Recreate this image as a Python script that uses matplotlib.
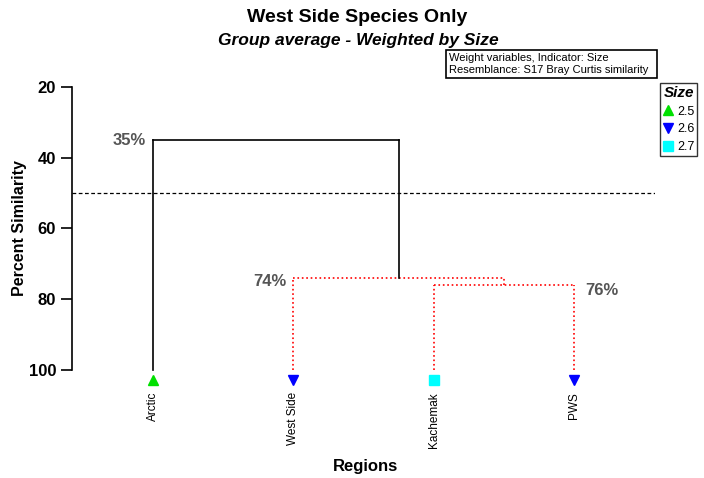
import matplotlib
matplotlib.use("Agg")
import matplotlib.pyplot as plt
from matplotlib.lines import Line2D
from matplotlib.patches import Rectangle

plt.rcParams['font.family'] = ['Liberation Sans', 'DejaVu Sans']

leaves = ['Arctic', 'West Side', 'Kachemak', 'PWS']
leaf_size = [2.5, 2.6, 2.7, 2.6]
# merges: (child a, child b, similarity); children >= 4 are earlier merges
merges = [(2, 3, 76), (1, 4, 74), (0, 5, 35)]
merge_labels = ['76%', '74%', '35%']
cut_level = 50

size_levels = [2.5, 2.6, 2.7]
size_markers = ['^', 'v', 's']
size_colors = ['#00e000', '#0000ff', '#00ffff']

W, H = 704, 478
fig = plt.figure(figsize=(7.04, 4.78), dpi=100)
ax = fig.add_axes([0.1023, 0.1816, 0.8281, 0.6364])

red = dict(color='red', ls=':', lw=1.2)
black = dict(color='black', ls='-', lw=1.2)

xs = {i: i + 1 for i in range(len(leaves))}
hs = {i: 100 for i in range(len(leaves))}
for k, (a, b, h) in enumerate(merges):
    node = len(leaves) + k
    sig = h > cut_level
    for c in (a, b):
        ax.plot([xs[c], xs[c]], [hs[c], h], **(red if sig else black))
    ax.plot([xs[a], xs[b]], [h, h], **(red if sig else black))
    xs[node] = (xs[a] + xs[b]) / 2
    hs[node] = h

# percentage labels
pct = dict(fontsize=12, fontweight='bold', color='#555555')
ax.text(xs[0] - 0.05, 35, merge_labels[2], ha='right', va='center', **pct)
ax.text(xs[1] - 0.05, 75, merge_labels[1], ha='right', va='center', **pct)
ax.text(xs[3] + 0.08, 77.5, merge_labels[0], ha='left', va='center', **pct)

ax.axhline(cut_level, color='black', ls='--', lw=0.9, dashes=(3, 2))

for i, s in enumerate(leaf_size):
    j = size_levels.index(s)
    ax.plot(xs[i], 102.8, marker=size_markers[j], color=size_colors[j], markersize=7.5, clip_on=False)

ax.set_ylim(106, 20)
ax.set_xlim(0.423, 4.577)
ax.set_yticks([20, 40, 60, 80, 100])
ax.tick_params(axis='y', labelsize=12, length=8, width=1.2)
for t in ax.get_yticklabels():
    t.set_fontweight('bold')
ax.spines['left'].set_bounds(20, 100)
ax.spines['left'].set_linewidth(1.2)
for s in ['top', 'right', 'bottom']:
    ax.spines[s].set_visible(False)
ax.set_xticks([])
for i, name in enumerate(leaves):
    ax.text(xs[i], 106.2, name, rotation=90, ha='center', va='top', fontsize=8.5)

fig.text(20 / W, 1 - 228 / H, 'Percent Similarity', rotation=90, ha='center', va='center',
         fontsize=11.5, fontweight='bold')
fig.text(365 / W, 1 - 466 / H, 'Regions', ha='center', va='center', fontsize=12, fontweight='bold')

fig.text(357 / W, 1 - 17 / H, 'West Side Species Only', ha='center', va='center', fontsize=14, fontweight='bold')
fig.text(358 / W, 1 - 40 / H, 'Group average - Weighted by Size', ha='center', va='center', fontsize=12.5,
         fontweight='bold', style='italic')
fig.patches.append(Rectangle((446 / W, 1 - 78 / H), 211 / W, 28 / H, transform=fig.transFigure,
                             fc='white', ec='black', lw=1.2))
fig.text(449 / W, 1 - 64 / H, 'Weight variables, Indicator: Size\nResemblance: S17 Bray Curtis similarity',
         ha='left', va='center', fontsize=8, linespacing=1.15)

handles = [Line2D([], [], ls='', marker=m, color=c, markersize=7) for m, c in zip(size_markers, size_colors)]
leg = fig.legend(handles, [str(v) for v in size_levels], title='Size', loc='upper left',
                 bbox_to_anchor=(660 / W, 1 - 83 / H), frameon=True, fancybox=False, edgecolor='black',
                 fontsize=9, handlelength=0.8, handletextpad=0.3, borderpad=0.25, labelspacing=0.45,
                 borderaxespad=0)
leg.get_title().set_fontweight('bold')
leg.get_title().set_fontstyle('italic')
leg.get_title().set_fontsize(11)
leg.get_frame().set_linewidth(1)

fig.savefig('out.png', dpi=100)
